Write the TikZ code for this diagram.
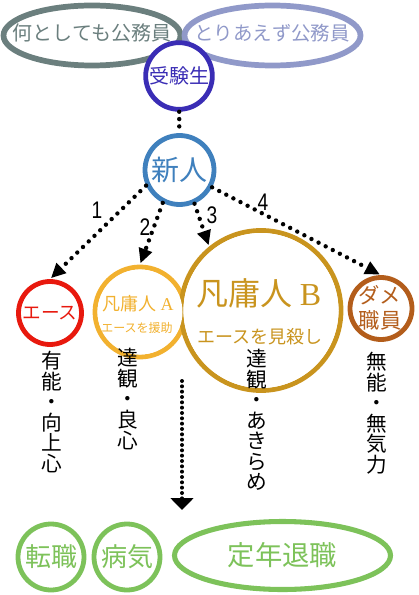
\documentclass[tikz,border=0pt]{standalone}
\usepackage{fontspec}
\setmainfont{Liberation Serif}
\newfontfamily\jp{Noto Sans CJK JP}
\newfontfamily\numfont{Liberation Sans}[FakeStretch=0.8]
\usetikzlibrary{arrows.meta}

\definecolor{kgray}{HTML}{6B7F7E}
\definecolor{klav}{HTML}{9099C9}
\definecolor{kjuken}{HTML}{3A2DB5}
\definecolor{kshin}{HTML}{3F80BD}
\definecolor{kace}{HTML}{E8190E}
\definecolor{kbonA}{HTML}{F2B12F}
\definecolor{kbonB}{HTML}{C9941E}
\definecolor{kdame}{HTML}{B35D1B}
\definecolor{kend}{HTML}{7DC25A}

\begin{document}
\begin{tikzpicture}[x=0.75pt,y=-0.75pt,
  ring/.style={circle,draw=#1,text=#1,line width=3.6pt,inner sep=0pt,fill=white},
  dotarrow/.style={line width=3.3pt,dash pattern=on 0pt off 6pt,line cap=round,
    -{Triangle[length=11pt,width=10pt]},shorten >=1pt},
  tate/.style={align=center,font=\jp\fontsize{15.5}{15.4}\selectfont},
  num/.style={font=\numfont\fontsize{18}{18}\selectfont}]
\useasboundingbox (0,0) rectangle (418,595);

%Top
\draw[kgray,line width=4.3pt] (92,35.5) ellipse [x radius=88.5,y radius=30];
\draw[klav,line width=4.3pt] (272.5,35.5) ellipse [x radius=88,y radius=30];
\node[text=kgray,font=\jp\fontsize{15}{15}\selectfont] (nanto) at (92,33) {何としても公務員};
\node[text=klav,font=\jp\fontsize{14.6}{15}\selectfont] (toriaezu) at (272,33) {とりあえず公務員};

\node[ring=kjuken,minimum size=50pt,font=\jp\fontsize{15}{15}\selectfont] (juken) at (179,76) {受験生};
\node[ring=kshin,minimum size=51.75pt,font=\jp\fontsize{21}{21}\selectfont] (shinjin) at (179.5,170) {新人};
\draw[line width=3.3pt,dash pattern=on 0pt off 5.5pt,line cap=round] (juken) -- (shinjin);

%Middle
\node[ring=kace,minimum size=47.25pt,font=\jp\fontsize{14}{14}\selectfont] (ace) at (50,313) {エース};
\node[ring=kbonA,minimum size=67.5pt] (bonA) at (140,312) {};
\node[ring=kbonB,minimum size=120pt] (bonB) at (261,310.5) {};
\fill[white] (bonA.center) circle [radius=42.5];
\fill[white] (bonB.center) circle [radius=77.5];
\node[ring=kdame,minimum size=46.5pt] (dame) at (381,308.5) {};

\node[text=kbonA,font=\jp\fontsize{13.5}{13}\selectfont] (bonAname) at (138,304) {凡庸人 {\rmfamily A}};
\node[text=kbonA,font=\jp\fontsize{9}{9}\selectfont] (bonAsub) at (137,328) {エースを援助};
\node[text=kbonB,font=\jp\fontsize{24}{24}\selectfont] (bonBname) at (259,293) {凡庸人 {\rmfamily B}};
\node[text=kbonB,font=\jp\fontsize{13.5}{14}\selectfont] (bonBsub) at (260,337) {エースを見殺し};
\node[text=kdame,font=\jp\fontsize{16}{18.5}\selectfont,align=center] (dametext) at (380,308) {ダメ\\職員};

\draw[dotarrow] (shinjin.205) -- (ace.north);
\draw[dotarrow] (shinjin.243) -- (bonA.north);
\draw[dotarrow] (shinjin.294) -- (bonB.129);
\draw[dotarrow] (shinjin.332) -- (dame.north);
\node[num] (n1) at (97,210) {1};
\node[num] (n2) at (145,227) {2};
\node[num] (n3) at (212,215) {3};
\node[num] (n4) at (263,202) {4};

\node[tate] (yuunou) at (52,412) {有\\能\\・\\向\\上\\心};
\node[tate] (ryoushin) at (128,399) {達\\観\\・\\良\\心};
\node[tate] (akirame) at (257,420) {達\\観\\・\\あ\\き\\ら\\め};
\node[tate] (munou) at (377,413) {無\\能\\・\\無\\気\\力};

%Bottom
\coordinate (drop) at (182,381);
\coordinate (dropend) at (182,510);
\draw[line width=3pt,dash pattern=on 0pt off 4pt,line cap=round,
  -{Triangle[length=9pt,width=17pt]}] (drop) -- (dropend);

\node[ring=kend,minimum size=49.5pt,font=\jp\fontsize{19.5}{20}\selectfont] (tenshoku) at (51,557) {転職};
\node[ring=kend,minimum size=49.5pt,font=\jp\fontsize{19.5}{20}\selectfont] (byouki) at (127,557) {病気};
\draw[kend,line width=3.8pt] (282.5,555.5) ellipse [x radius=108,y radius=34];
\node[text=kend,font=\jp\fontsize{20.5}{21}\selectfont] (teinen) at (282.5,555) {定年退職};

\end{tikzpicture}
\end{document}
